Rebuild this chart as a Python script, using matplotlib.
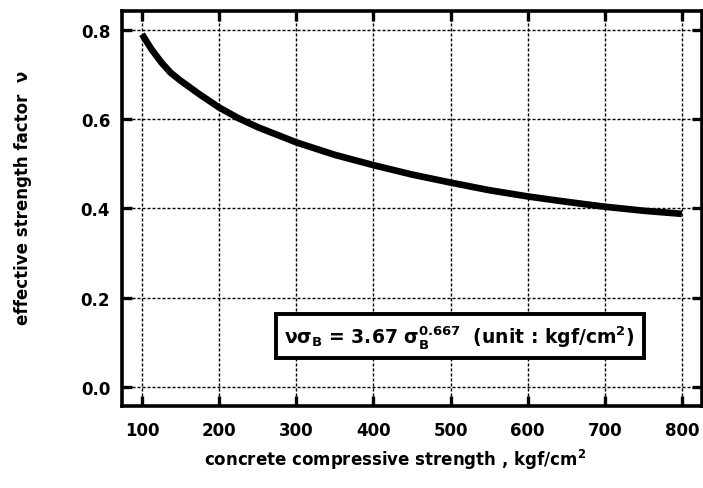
import numpy as np
import matplotlib
matplotlib.use('Agg')
import matplotlib.pyplot as plt

plt.rcParams['font.family'] = ['DejaVu Sans']
plt.rcParams['font.weight'] = 'bold'
plt.rcParams['axes.labelweight'] = 'bold'
plt.rcParams['mathtext.default'] = 'regular'

# values
strength = [100, 112, 125, 137, 150, 175, 200, 225, 250, 300, 350, 400, 450,
            500, 550, 600, 650, 700, 750, 800]
factor = [0.79, 0.757, 0.727, 0.704, 0.686, 0.655, 0.626, 0.602, 0.582, 0.548,
          0.52, 0.497, 0.476, 0.458, 0.441, 0.427, 0.415, 0.404, 0.395, 0.388]

x_ticks = [100, 200, 300, 400, 500, 600, 700, 800]
y_ticks = [0.0, 0.2, 0.4, 0.6, 0.8]
y_ticklabels = ['0.0', '0.2', '0.4', '0.6', '0.8']

fig = plt.figure(figsize=(7.03, 4.89), dpi=100)
ax = fig.add_axes([0.1735, 0.1677, 0.825, 0.8078])

ax.plot(strength, factor, color='black', lw=4.8, solid_capstyle='butt', zorder=3)

ax.set_xlim(74, 826)
ax.set_ylim(-0.042, 0.842)
ax.set_xticks(x_ticks)
ax.set_yticks(y_ticks)
ax.set_yticklabels(y_ticklabels)

ax.grid(True, color='black', lw=1.0, linestyle=(0, (2.2, 1.4)))
ax.tick_params(direction='in', length=7, width=2.4, top=True, right=True,
               labelsize=12)
ax.tick_params(axis='x', pad=10.5)
ax.tick_params(axis='y', pad=8.5)
for sp in ax.spines.values():
    sp.set_linewidth(2.6)

ax.set_xlabel('concrete compressive strength , kgf/cm$^2$', fontsize=12)
ax.set_ylabel('effective strength factor  ν', fontsize=12)
ax.xaxis.set_label_coords(0.471, -0.104)
ax.yaxis.set_label_coords(-0.155, 0.529)

ax.text(512, 0.114, 'νσ$_B$ = 3.67 σ$_B^{0.667}$  (unit : kgf/cm$^2$)',
        fontsize=13.5, ha='center', va='center', zorder=5,
        bbox=dict(boxstyle='square,pad=0.45', fc='white', ec='black', lw=2.8))

fig.savefig('out.png', dpi=100)
